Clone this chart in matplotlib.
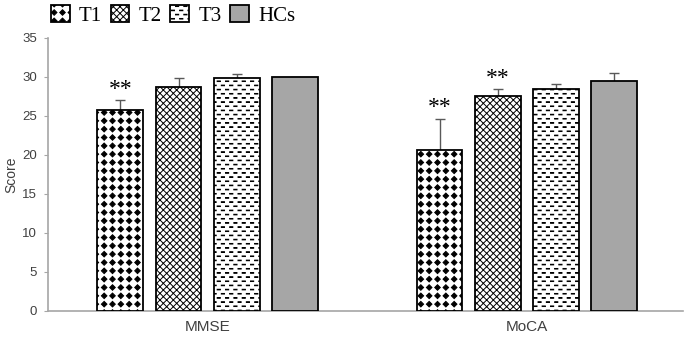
import numpy as np
import matplotlib
matplotlib.use("Agg")
import matplotlib.pyplot as plt
import matplotlib.hatch as mhatch
from matplotlib.path import Path
from matplotlib.patches import Patch

# ---------------- data ----------------
categories = ["MMSE", "MoCA"]
groups = ["T1", "T2", "T3", "HCs"]
means = {
    "T1": [25.7, 20.6],
    "T2": [28.7, 27.5],
    "T3": [29.85, 28.5],
    "HCs": [30.0, 29.5],
}
errors = {
    "T1": [1.3, 4.0],
    "T2": [1.1, 0.9],
    "T3": [0.5, 0.55],
    "HCs": [0.05, 0.95],
}
stars = {
    "T1": ["**", "**"],
    "T2": ["", "**"],
    "T3": ["", ""],
    "HCs": ["", ""],
}
yticks = [0, 5, 10, 15, 20, 25, 30, 35]


# ---------------- custom hatch patterns ----------------
class DiamondGrid(mhatch.HatchPatternBase):
    """square grid of filled diamonds, triggered by 'O'"""
    def __init__(self, hatch, density):
        self.n = hatch.count('O') * density
        self.num_vertices = self.n * self.n * 5

    def set_vertices_and_codes(self, vertices, codes):
        n = self.n
        r = 0.028
        shape = np.array([[0, -r], [r, 0], [0, r], [-r, 0], [0, -r]])
        sc = [Path.MOVETO, Path.LINETO, Path.LINETO, Path.LINETO, Path.CLOSEPOLY]
        vs, cs = [], []
        for i in range(n):
            for j in range(n):
                vs.append(shape + [(i + 0.5) / n, (j + 0.5) / n])
                cs.extend(sc)
        vertices[:] = np.concatenate(vs)
        codes[:] = cs


class DashGrid(mhatch.HatchPatternBase):
    """staggered short horizontal dashes, triggered by '*'"""
    def __init__(self, hatch, density):
        self.n = hatch.count('*') * density
        self.rows = 2 * self.n
        self.num_vertices = self.n * self.rows * 5

    def set_vertices_and_codes(self, vertices, codes):
        n, rows = self.n, self.rows
        w, h = 0.016, 0.003
        shape = np.array([[-w, -h], [w, -h], [w, h], [-w, h], [-w, -h]])
        sc = [Path.MOVETO, Path.LINETO, Path.LINETO, Path.LINETO, Path.CLOSEPOLY]
        vs, cs = [], []
        for r in range(rows):
            off = 0.25 if r % 2 == 0 else 0.75
            for i in range(n):
                vs.append(shape + [(i + off) / n, (r + 0.5) / rows])
                cs.extend(sc)
        vertices[:] = np.concatenate(vs)
        codes[:] = cs


mhatch._hatch_types[:] = [t for t in mhatch._hatch_types
                          if t not in (mhatch.LargeCircles, mhatch.Stars)]
mhatch._hatch_types.extend([DiamondGrid, DashGrid])

styles = {
    "T1": dict(facecolor="white", hatch="OO"),
    "T2": dict(facecolor="white", hatch="xxxxx"),
    "T3": dict(facecolor="white", hatch="**"),
    "HCs": dict(facecolor="#a6a6a6", hatch=None),
}
hatch_colors = {"T1": "black", "T2": "#404040", "T3": "#333333", "HCs": "black"}
has_hc = hasattr(Patch, "set_hatchcolor")

plt.rcParams["hatch.linewidth"] = 0.7
plt.rcParams["font.family"] = ["Liberation Sans", "DejaVu Sans"]

fig = plt.figure(figsize=(6.86, 3.39), dpi=100)
ax = fig.add_axes([0.070, 0.0835, 0.9256, 0.8045])

x = np.arange(len(categories))
width = 0.144
step = 0.182
axis_gray = "#a6a6a6"
text_gray = "#404040"


def style_patch(p, g):
    if has_hc and styles[g]["hatch"]:
        p.set_hatchcolor(hatch_colors[g])


for k, g in enumerate(groups):
    pos = x + (k - 1.5) * step
    vals = np.array(means[g])
    errs = np.array(errors[g])
    bars = ax.bar(pos, vals, width, edgecolor="black", linewidth=1.3,
                  zorder=3, **styles[g])
    for b in bars:
        style_patch(b, g)
    tops = vals + errs
    ax.vlines(pos, vals, tops, colors="#595959", linewidth=1.0, zorder=2)
    ax.plot(pos, tops, ls="none", marker="_", markersize=7,
            markeredgewidth=1.0, color="#595959", zorder=2)
    for p, t, s in zip(pos, tops, stars[g]):
        if s:
            ax.text(p, t + 0.1, s, ha="center", va="bottom", fontsize=17,
                    family=["Liberation Serif", "DejaVu Serif"], color="black")

ax.set_xlim(-0.5, 1.49)
ax.set_ylim(0, 35)
ax.set_yticks(yticks)
ax.set_xticks(x)
ax.set_xticklabels(categories)
ax.tick_params(axis="y", direction="out", length=3, color=axis_gray,
               labelsize=9.5, labelcolor=text_gray, pad=5)
ax.tick_params(axis="x", length=0, labelsize=11, labelcolor=text_gray, pad=7)
for side in ("top", "right"):
    ax.spines[side].set_visible(False)
for side in ("left", "bottom"):
    ax.spines[side].set_color(axis_gray)
    ax.spines[side].set_linewidth(1.2)
ax.set_ylabel("Score", fontsize=10, color=text_gray, labelpad=3)

handles = []
for g in groups:
    h = Patch(edgecolor="black", linewidth=1.3, **styles[g])
    style_patch(h, g)
    handles.append(h)
fig.legend(handles, groups, loc="upper left", bbox_to_anchor=(0.047, 1.04),
           ncol=4, frameon=False, handlelength=0.9, handleheight=0.9,
           handletextpad=0.45, columnspacing=0.4,
           prop={"family": "Liberation Serif", "size": 15})

fig.savefig("out.png", dpi=100)
